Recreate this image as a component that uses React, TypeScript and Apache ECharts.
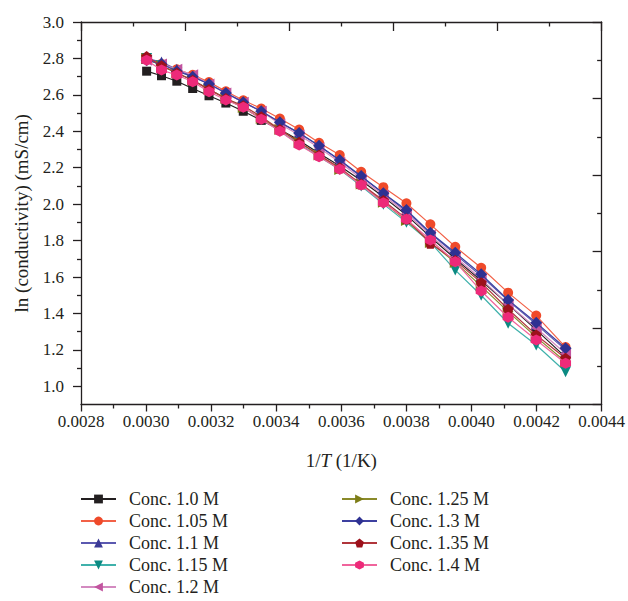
import React, { useEffect, useRef } from 'react';
import * as echarts from 'echarts';

// 1/T values (1/K), T = 333.15 K down to 233.15 K
const xValues = [
  0.0030017, 0.0030474, 0.0030945, 0.0031432, 0.0031934, 0.0032452, 0.0032987,
  0.003354, 0.0034112, 0.0034704, 0.0035317, 0.0035952, 0.003661, 0.0037293,
  0.0038001, 0.0038737, 0.0039502, 0.0040298, 0.0041127, 0.004199, 0.0042891,
];

const seriesNames = [
  'Conc. 1.0 M', 'Conc. 1.05 M', 'Conc. 1.1 M', 'Conc. 1.15 M', 'Conc. 1.2 M',
  'Conc. 1.25 M', 'Conc. 1.3 M', 'Conc. 1.35 M', 'Conc. 1.4 M',
];

const conc100 = [2.73, 2.705, 2.675, 2.635, 2.595, 2.555, 2.51, 2.46, 2.41, 2.35, 2.28, 2.21, 2.13, 2.04, 1.94, 1.82, 1.7, 1.58, 1.45, 1.31, 1.16];
const conc105 = [2.8, 2.77, 2.74, 2.71, 2.67, 2.62, 2.57, 2.525, 2.47, 2.41, 2.337, 2.27, 2.178, 2.093, 2.005, 1.889, 1.766, 1.651, 1.514, 1.388, 1.215];
const conc110 = [2.8, 2.78, 2.74, 2.7, 2.66, 2.61, 2.56, 2.51, 2.45, 2.39, 2.32, 2.24, 2.15, 2.06, 1.96, 1.84, 1.725, 1.605, 1.47, 1.34, 1.2];
const conc115 = [2.8, 2.76, 2.72, 2.68, 2.63, 2.58, 2.53, 2.47, 2.4, 2.33, 2.26, 2.19, 2.1, 2.0, 1.9, 1.79, 1.638, 1.5, 1.346, 1.227, 1.08];
const conc120 = [2.79, 2.77, 2.74, 2.71, 2.66, 2.61, 2.56, 2.51, 2.44, 2.38, 2.31, 2.23, 2.14, 2.05, 1.95, 1.83, 1.71, 1.59, 1.45, 1.32, 1.18];
const conc125 = [2.8, 2.76, 2.72, 2.68, 2.63, 2.58, 2.53, 2.47, 2.41, 2.34, 2.27, 2.19, 2.11, 2.01, 1.91, 1.79, 1.68, 1.55, 1.41, 1.27, 1.135];
const conc130 = [2.79, 2.77, 2.73, 2.7, 2.66, 2.61, 2.56, 2.51, 2.45, 2.39, 2.32, 2.242, 2.155, 2.06, 1.968, 1.843, 1.733, 1.615, 1.474, 1.349, 1.209];
const conc135 = [2.81, 2.76, 2.72, 2.68, 2.63, 2.58, 2.54, 2.48, 2.41, 2.34, 2.27, 2.2, 2.11, 2.02, 1.92, 1.785, 1.69, 1.569, 1.423, 1.282, 1.154];
const conc140 = [2.79, 2.736, 2.709, 2.672, 2.617, 2.572, 2.532, 2.466, 2.4, 2.325, 2.26, 2.191, 2.105, 2.008, 1.917, 1.803, 1.684, 1.523, 1.379, 1.254, 1.126];

const yMajorTicks = [1.0, 1.2, 1.4, 1.6, 1.8, 2.0, 2.2, 2.4, 2.6, 2.8, 3.0];
const yMinorTicks = [1.1, 1.3, 1.5, 1.7, 1.9, 2.1, 2.3, 2.5, 2.7, 2.9];

const allValues = [conc100, conc105, conc110, conc115, conc120, conc125, conc130, conc135, conc140];

const markerColors = ['#231f20', '#ef4a2a', '#3b3a96', '#0b8a82', '#c2549f', '#7d7d17', '#2e3192', '#9c111b', '#ed2a79'];
const lineColors = ['#231f20', '#f26147', '#5b59b0', '#3fb1ab', '#d38ac0', '#8a8a2a', '#3d40a0', '#b0353b', '#f0649c'];
const symbols = [
  'rect',
  'circle',
  'triangle',
  'path://M-1,-1 L1,-1 L0,1 Z',
  'path://M-1,0 L1,-1 L1,1 Z',
  'path://M1,0 L-1,-1 L-1,1 Z',
  'diamond',
  'path://M0,-1 L0.951,-0.309 L0.588,0.809 L-0.588,0.809 L-0.951,-0.309 Z',
  'path://M0,-1 L0.866,-0.5 L0.866,0.5 L0,1 L-0.866,0.5 L-0.866,-0.5 Z',
];
const symbolSizes = [9, 10, 11, 11, 11, 11, 12, 11, 11];

const FONT = "'Liberation Serif', 'DejaVu Serif', serif";
const INK = '#231f20';

export default function App() {
  const ref = useRef<HTMLDivElement>(null);
  useEffect(() => {
    const chart = echarts.init(ref.current!, null, { renderer: 'svg' });
    const axisLineStyle = { color: INK, width: 1.3 };
    const series = allValues.map((vals, k) => ({
      name: seriesNames[k],
      type: 'line',
      data: xValues.map((x, i) => [x, vals[i]]),
      symbol: symbols[k],
      symbolSize: symbolSizes[k],
      showAllSymbol: true,
      itemStyle: { color: markerColors[k] },
      lineStyle: { color: lineColors[k], width: 1.2 },
      emphasis: { disabled: true },
      z: 2 + k,
    }));
    const legendBase = {
      orient: 'vertical',
      top: 490,
      padding: 0,
      itemWidth: 35,
      itemHeight: 11,
      itemGap: 4,
      textStyle: { fontSize: 18, fontFamily: FONT, color: INK, lineHeight: 18, padding: [0, 0, 0, 8] },
      selectedMode: false,
    };
    chart.setOption({
      animation: false,
      backgroundColor: '#fff',
      grid: { left: 81, width: 521.5, top: 22, height: 382.5, containLabel: false },
      legend: [
        { ...legendBase, left: 80, data: seriesNames.slice(0, 5) },
        { ...legendBase, left: 341, data: seriesNames.slice(5) },
      ],
      xAxis: [
        {
          type: 'value', position: 'bottom', min: 0.0028, max: 0.0044, interval: 0.0002,
          axisLine: { show: true, onZero: false, lineStyle: axisLineStyle },
          axisTick: { show: true, inside: false, length: 7, lineStyle: axisLineStyle },
          minorTick: { show: true, splitNumber: 2, length: 4, lineStyle: axisLineStyle },
          splitLine: { show: false },
          axisLabel: { formatter: (v: number) => v.toFixed(4), margin: 8, fontSize: 17, fontFamily: FONT, color: INK },
          name: '1/{i|T} (1/K)',
          nameLocation: 'middle',
          nameGap: 46,
          nameTextStyle: {
            fontSize: 19, fontFamily: FONT, color: INK,
            rich: { i: { fontStyle: 'italic', fontSize: 19, fontFamily: FONT, color: INK } },
          },
        },
        {
          type: 'value', position: 'top', min: 0, max: 10, interval: 2,
          axisLine: { show: true, onZero: false, lineStyle: axisLineStyle },
          axisTick: { show: true, inside: true, length: 9, lineStyle: axisLineStyle },
          minorTick: { show: true, splitNumber: 2, length: 4.5, lineStyle: axisLineStyle },
          axisLabel: { show: false },
          splitLine: { show: false },
        },
      ],
      yAxis: [
        {
          type: 'value', position: 'left', min: 0.9, max: 3.0,
          axisLine: { show: true, onZero: false, lineStyle: axisLineStyle },
          axisTick: { show: true, inside: false, length: 8, customValues: yMajorTicks, lineStyle: axisLineStyle },
          axisLabel: { customValues: yMajorTicks, formatter: (v: number) => v.toFixed(1), margin: 17, fontSize: 17, fontFamily: FONT, color: INK },
          splitLine: { show: false },
          name: 'ln (conductivity) (mS/cm)',
          nameLocation: 'middle',
          nameGap: 50,
          nameTextStyle: { fontSize: 19, fontFamily: FONT, color: INK },
        },
        {
          type: 'value', position: 'left', min: 0.9, max: 3.0,
          axisLine: { show: false },
          axisTick: { show: true, inside: false, length: 4, customValues: yMinorTicks, lineStyle: axisLineStyle },
          axisLabel: { show: false },
          splitLine: { show: false },
        },
        {
          type: 'value', position: 'right', min: 0, max: 10, interval: 2,
          axisLine: { show: true, onZero: false, lineStyle: axisLineStyle },
          axisTick: { show: true, inside: true, length: 9, lineStyle: axisLineStyle },
          minorTick: { show: true, splitNumber: 2, length: 4.5, lineStyle: axisLineStyle },
          axisLabel: { show: false },
          splitLine: { show: false },
        },
      ],
      series,
    });
    return () => chart.dispose();
  }, []);
  return (
    <div
      ref={ref}
      style={{ position: 'fixed', left: 0, top: 0, width: 628, height: 640, background: '#fff' }}
    />
  );
}
